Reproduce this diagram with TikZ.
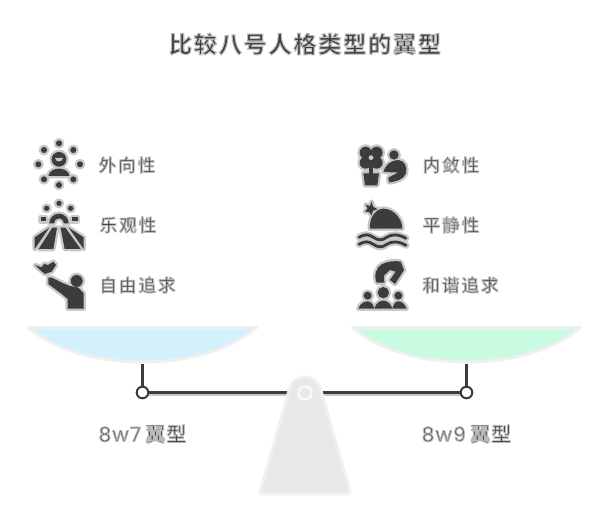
\documentclass[tikz,border=0pt]{standalone}
\usepackage{fontspec}
\setmainfont{Noto Sans CJK SC Medium}
\newfontfamily\cjkb{Noto Sans CJK SC Bold}
\newfontfamily\latinf[LetterSpace=6]{Poppins}
\definecolor{ink}{HTML}{3C3C3C}
\definecolor{halo}{HTML}{C8C8C8}
\definecolor{rim}{HTML}{F0F0F0}
\definecolor{panblue}{HTML}{D2F1FD}
\definecolor{pangreen}{HTML}{C8FBE2}
\newcommand\halotext[3]{\special{pdf:code 2 Tr #1 w #2 G}#3}
\newcommand\twice[1]{%
  \begin{scope}\tikzset{ic/.style={draw=halo,fill=halo,line width=4.6pt,line join=round},il/.style={draw=halo,line width=7pt,line cap=round,line join=round}}#1\end{scope}%
  \begin{scope}\tikzset{ic/.style={fill=ink},il/.style={draw=ink,line width=2.8pt,line cap=round,line join=round}}#1\end{scope}}
\newcommand\dotz[3]{\path[ic] (#1,#2) circle[radius=#3];}
\tikzset{
  lab/.style={text=ink,font=\fontsize{17.5}{20}\selectfont,anchor=center,inner sep=0pt},
  ttl/.style={text=ink,font=\cjkb\fontsize{23}{26}\selectfont,anchor=center,inner sep=0pt},
  sub/.style={text=ink,font=\fontsize{20}{23}\selectfont,anchor=center,inner sep=0pt},
  pan/.style={draw=rim,line width=3pt,line join=round},
  zoomL/.style={shift={(20,130)},x=0.3333pt,y=-0.3333pt},
  zoomR/.style={shift={(345,130)},x=0.3333pt,y=-0.3333pt}
}
\begin{document}
\begin{tikzpicture}[x=1pt,y=-1pt]
\useasboundingbox (0,0) rectangle (606,529);
\fill[white] (0,0) rectangle (606,529);
\node[ttl] (title) at (305,44) {\halotext{1.1}{0.72}{比\kern1.9pt 较\kern1.9pt 八\kern1.9pt 号\kern1.9pt 人\kern1.9pt 格\kern1.9pt 类\kern1.9pt 型\kern1.9pt 的\kern1.9pt 翼\kern1.9pt 型}};
% pans
\path[pan,fill=panblue] (28.5,327.5) .. controls (60,354) and (105,362) .. (142.5,362) .. controls (180,362) and (225,354) .. (256.5,327.5) -- cycle;
\path[pan,fill=pangreen] (352.5,327.5) .. controls (384,354) and (429,362) .. (466.5,362) .. controls (504,362) and (549,354) .. (580.5,327.5) -- cycle;
\coordinate (panL) at (142.5,364);
\coordinate (panR) at (466.5,364);
\coordinate (pivL) at (142.5,392.5);
\coordinate (pivR) at (466.5,392.5);
% beam
\draw[halo,line width=3pt] ([yshift=-1.8pt]pivL) -- ([yshift=-1.8pt]pivR);
\draw[ink,line width=2.4pt] (pivL) -- (pivR);
\draw[ink,line width=2.4pt] (panL) -- (pivL);
\draw[ink,line width=2.4pt] (panR) -- (pivR);
\draw[ink,line width=2pt,fill=white] (pivL) circle[radius=5.8];
\draw[ink,line width=2pt,fill=white] (pivR) circle[radius=5.8];
% fulcrum
\path[draw=rim,line width=3pt,fill=black!9,line join=round] (261,493.8) [rounded corners=2pt] -- (259.5,493.8) [sharp corners] -- (289.6,388.6) arc[start angle=196,end angle=344,radius=16] [rounded corners=2pt] -- (350.5,493.8) -- (259.5,493.8) [sharp corners] -- cycle;
\path[draw=rim!50!white,line width=2.5pt,fill=black!9] (305,393) circle[radius=6.5];
% left icons
\begin{scope}[zoomL]
\twice{
 \dotz{117}{40}{9}\dotz{72}{60}{9}\dotz{160}{60}{9}\dotz{55}{103}{9}\dotz{180}{103}{9}\dotz{72}{148}{9}\dotz{160}{148}{9}\dotz{117}{165}{9}
 \dotz{117}{88}{22}
 \path[ic] (85,138) .. controls (88,122) and (104,116) .. (117,116) .. controls (130,116) and (146,122) .. (149,138) -- cycle;
}
\fill[halo] (105,84) .. controls (110,84) and (124,84) .. (129,84) .. controls (127,98) and (107,98) .. (105,84) -- cycle;
\twice{
 \dotz{117}{220}{8}\dotz{80}{235}{8}\dotz{152}{235}{8}
 \path[ic] (62,262) rectangle (78,274);
 \path[ic] (157,262) rectangle (173,274);
 \path[ic] (88,280) arc[start angle=180,end angle=360,radius=29] -- (132,280) arc[start angle=360,end angle=180,radius=15] -- cycle;
 \path[ic] (44,322) -- (88,293) -- (44,357) -- cycle;
 \path[ic] (56,357) -- (97,293) -- (111,293) -- (100,357) -- cycle;
 \path[ic] (122,293) -- (136,293) -- (182,357) -- (134,357) -- cycle;
 \path[ic] (146,293) -- (191,322) -- (191,357) -- cycle;
}
\twice{
 \path[ic] (45,405) -- (65,412) -- (72,402) -- (85,405) -- (100,395) -- (108,405) -- (95,425) -- (75,432) -- (60,420) -- cycle;
 \dotz{170}{453}{18}
 \path[ic] (85,443) -- (95,443) -- (130,460) -- (150,468) -- (175,473) -- (191,490) -- (191,536) -- (143,536) -- (143,507) -- (125,492) -- (85,462) -- cycle;
}
\end{scope}
% right icons
\begin{scope}[zoomR]
\twice{
 \dotz{62}{68}{18}\dotz{95}{68}{18}\dotz{62}{98}{18}\dotz{95}{98}{18}
 \path[ic] (73,105) rectangle (84,135);
 \path[ic] (55,130) -- (102,130) -- (97,166) -- (60,166) -- cycle;
 \dotz{147}{75}{14}
 \path[ic] (115,125) .. controls (122,105) and (135,92) .. (160,90) .. controls (180,92) and (188,110) .. (182,132) .. controls (175,148) and (155,155) .. (132,157) -- (130,143) -- (160,127) -- (138,127) -- cycle;
}
\fill[halo] (78,83) circle[radius=7];
\twice{
 \path[ic] (75,296) .. controls (72,265) and (90,238) .. (115,236) .. controls (145,236) and (172,265) .. (172,296) -- cycle;
 \path[ic] (80,215) -- (84,230) -- (98,238) -- (84,242) -- (80,256) -- (72,246) -- (60,245) -- (68,235) -- (62,224) -- (75,228) -- cycle;
 \path[il] (42,322) .. controls (60,312) and (70,312) .. (85,322) .. controls (100,332) and (112,332) .. (125,322) .. controls (140,312) and (160,312) .. (183,325);
 \path[il] (42,343) .. controls (60,333) and (70,333) .. (85,343) .. controls (100,353) and (112,353) .. (125,343) .. controls (140,333) and (160,333) .. (183,346);
}
\twice{
 \path[ic] (95,458) .. controls (85,435) and (95,412) .. (110,403) .. controls (130,393) and (150,392) .. (167,395) -- (177,420) -- (150,462) -- (135,450) -- (152,425) -- (135,420) -- (117,437) -- (118,458) -- cycle;
 \dotz{68}{497}{12}\dotz{115}{488}{17}\dotz{160}{497}{12}
 \path[ic] (40,536) .. controls (45,520) and (60,514) .. (68,514) .. controls (76,514) and (85,522) .. (88,536) -- cycle;
 \path[ic] (88,536) .. controls (92,520) and (105,512) .. (115,512) .. controls (125,512) and (138,520) .. (142,536) -- cycle;
 \path[ic] (142,536) .. controls (146,522) and (152,514) .. (160,514) .. controls (170,514) and (180,522) .. (185,536) -- cycle;
}
\end{scope}
% labels
\newcommand\gp{\kern2pt }
\node[lab] (a1) at (127,165) {\halotext{0.9}{0.72}{外\gp 向\gp 性}};
\node[lab] (a2) at (128,225) {\halotext{0.9}{0.72}{乐\gp 观\gp 性}};
\node[lab] (a3) at (137.5,285) {\halotext{0.9}{0.72}{自\gp 由\gp 追\gp 求}};
\node[lab] (b1) at (451,165) {\halotext{0.9}{0.72}{内\gp 敛\gp 性}};
\node[lab] (b2) at (451,225) {\halotext{0.9}{0.72}{平\gp 静\gp 性}};
\node[lab] (b3) at (460.5,285) {\halotext{0.9}{0.72}{和\gp 谐\gp 追\gp 求}};
\node[sub] (c1) at (142.5,434) {\halotext{0.9}{0.72}{{\latinf 8w7} 翼\kern1pt 型}};
\node[sub] (c2) at (466.5,434) {\halotext{0.9}{0.72}{{\latinf 8w9} 翼\kern1pt 型}};
\end{tikzpicture}
\end{document}
